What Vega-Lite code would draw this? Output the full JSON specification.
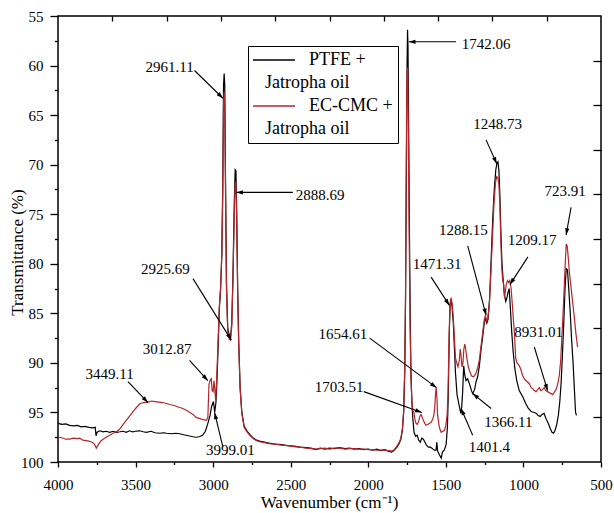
{
  "$schema": "https://vega.github.io/schema/vega-lite/v6.json",
  "width": 543,
  "height": 446,
  "autosize": {"type": "none"},
  "padding": {"left": 58, "top": 16, "right": 13, "bottom": 51},
  "background": "white",
  "config": {
    "font": "Liberation Serif",
    "view": {"stroke": "black", "strokeWidth": 1.5},
    "axis": {"grid": false, "domain": false, "tickColor": "black", "tickWidth": 1.3, "labelColor": "black", "labelFont": "Liberation Serif", "labelFontSize": 15, "titleFont": "Liberation Serif", "titleFontSize": 17, "titleFontWeight": "normal", "titleColor": "black", "labelFlush": false, "labelOverlap": false, "labelBound": false}
  },
  "datasets": {
    "ptfe": [
      {"x":4000,"y":96.1},{"x":3975,"y":96.2},{"x":3950,"y":96.15},{"x":3925,"y":96.3},{"x":3900,"y":96.35},{"x":3875,"y":96.3},{"x":3850,"y":96.45},{"x":3825,"y":96.4},{"x":3800,"y":96.5},{"x":3775,"y":96.55},{"x":3760,"y":96.5},{"x":3755,"y":97.35},{"x":3748,"y":97.0},{"x":3731,"y":96.85},{"x":3710,"y":96.95},{"x":3690,"y":96.9},{"x":3667,"y":97.0},{"x":3645,"y":96.9},{"x":3624,"y":97.0},{"x":3600,"y":96.95},{"x":3580,"y":96.9},{"x":3560,"y":97.0},{"x":3540,"y":96.85},{"x":3520,"y":96.95},{"x":3500,"y":96.9},{"x":3474,"y":96.85},{"x":3450,"y":96.95},{"x":3430,"y":97.0},{"x":3400,"y":96.9},{"x":3375,"y":97.05},{"x":3345,"y":97.1},{"x":3320,"y":97.05},{"x":3300,"y":97.1},{"x":3270,"y":97.15},{"x":3240,"y":97.1},{"x":3216,"y":97.15},{"x":3190,"y":97.25},{"x":3160,"y":97.35},{"x":3130,"y":97.45},{"x":3109,"y":97.5},{"x":3090,"y":97.45},{"x":3068,"y":97.3},{"x":3050,"y":96.9},{"x":3034,"y":96.1},{"x":3020,"y":95.3},{"x":3010,"y":94.4},{"x":2998,"y":93.9},{"x":2990,"y":95.0},{"x":2982,"y":94.0},{"x":2976,"y":92.0},{"x":2968,"y":88.5},{"x":2960,"y":84.5},{"x":2952,"y":82.5},{"x":2944,"y":79.0},{"x":2938,"y":72.0},{"x":2933,"y":62.0},{"x":2929,"y":60.8},{"x":2925,"y":62.0},{"x":2920,"y":72.0},{"x":2914,"y":82.0},{"x":2906,"y":86.5},{"x":2896,"y":87.3},{"x":2888,"y":87.4},{"x":2880,"y":86.0},{"x":2872,"y":81.0},{"x":2864,"y":74.0},{"x":2858,"y":70.5},{"x":2853,"y":70.6},{"x":2848,"y":75.0},{"x":2842,"y":82.5},{"x":2835,"y":88.0},{"x":2826,"y":92.5},{"x":2815,"y":95.0},{"x":2800,"y":96.4},{"x":2780,"y":96.9},{"x":2760,"y":97.3},{"x":2740,"y":97.6},{"x":2720,"y":97.8},{"x":2700,"y":97.9},{"x":2670,"y":98.0},{"x":2640,"y":98.1},{"x":2600,"y":98.2},{"x":2560,"y":98.25},{"x":2520,"y":98.35},{"x":2480,"y":98.4},{"x":2440,"y":98.5},{"x":2400,"y":98.55},{"x":2370,"y":98.6},{"x":2336,"y":98.75},{"x":2310,"y":98.6},{"x":2280,"y":98.7},{"x":2250,"y":98.6},{"x":2220,"y":98.65},{"x":2186,"y":98.55},{"x":2150,"y":98.65},{"x":2120,"y":98.6},{"x":2090,"y":98.7},{"x":2060,"y":98.65},{"x":2030,"y":98.75},{"x":2000,"y":98.7},{"x":1973,"y":98.8},{"x":1945,"y":98.7},{"x":1920,"y":98.85},{"x":1895,"y":98.75},{"x":1870,"y":98.9},{"x":1850,"y":99.0},{"x":1835,"y":98.85},{"x":1815,"y":98.5},{"x":1800,"y":98.1},{"x":1790,"y":97.7},{"x":1780,"y":96.8},{"x":1772,"y":95.0},{"x":1765,"y":91.0},{"x":1760,"y":84.0},{"x":1755,"y":72.0},{"x":1750,"y":60.0},{"x":1747,"y":56.4},{"x":1744,"y":58.0},{"x":1740,"y":66.0},{"x":1735,"y":76.0},{"x":1730,"y":85.0},{"x":1725,"y":91.0},{"x":1719,"y":94.0},{"x":1713,"y":95.6},{"x":1705,"y":97.0},{"x":1695,"y":97.4},{"x":1685,"y":97.3},{"x":1675,"y":97.8},{"x":1665,"y":98.0},{"x":1655,"y":97.6},{"x":1645,"y":97.7},{"x":1638,"y":97.9},{"x":1625,"y":98.3},{"x":1612,"y":98.5},{"x":1600,"y":98.5},{"x":1590,"y":98.6},{"x":1575,"y":98.8},{"x":1563,"y":98.8},{"x":1558,"y":98.0},{"x":1553,"y":98.9},{"x":1541,"y":99.3},{"x":1530,"y":99.6},{"x":1522,"y":99.0},{"x":1510,"y":98.8},{"x":1498,"y":98.2},{"x":1490,"y":96.5},{"x":1484,"y":93.0},{"x":1478,"y":87.0},{"x":1472,"y":84.0},{"x":1466,"y":83.7},{"x":1460,"y":84.3},{"x":1452,"y":86.0},{"x":1445,"y":88.5},{"x":1438,"y":91.0},{"x":1428,"y":93.2},{"x":1413,"y":94.4},{"x":1404,"y":95.1},{"x":1398,"y":94.5},{"x":1392,"y":93.0},{"x":1385,"y":90.3},{"x":1378,"y":91.2},{"x":1370,"y":91.8},{"x":1360,"y":91.6},{"x":1348,"y":92.1},{"x":1335,"y":92.8},{"x":1327,"y":93.1},{"x":1315,"y":92.7},{"x":1305,"y":91.9},{"x":1295,"y":91.4},{"x":1284,"y":90.3},{"x":1272,"y":88.5},{"x":1263,"y":87.4},{"x":1252,"y":85.9},{"x":1245,"y":85.5},{"x":1236,"y":86.0},{"x":1228,"y":85.6},{"x":1218,"y":83.5},{"x":1208,"y":79.5},{"x":1198,"y":75.5},{"x":1188,"y":72.5},{"x":1178,"y":70.5},{"x":1170,"y":69.8},{"x":1164,"y":69.7},{"x":1158,"y":70.6},{"x":1152,"y":73.0},{"x":1145,"y":77.0},{"x":1138,"y":80.0},{"x":1130,"y":81.8},{"x":1122,"y":83.2},{"x":1114,"y":83.8},{"x":1106,"y":83.4},{"x":1098,"y":82.8},{"x":1092,"y":82.5},{"x":1084,"y":84.5},{"x":1075,"y":87.0},{"x":1066,"y":88.9},{"x":1055,"y":90.6},{"x":1043,"y":91.8},{"x":1027,"y":92.8},{"x":1005,"y":93.4},{"x":985,"y":94.1},{"x":968,"y":94.6},{"x":950,"y":94.9},{"x":930,"y":95.0},{"x":917,"y":95.1},{"x":905,"y":95.3},{"x":892,"y":95.4},{"x":880,"y":95.2},{"x":867,"y":95.1},{"x":855,"y":95.6},{"x":840,"y":96.1},{"x":828,"y":96.6},{"x":816,"y":97.0},{"x":805,"y":97.1},{"x":796,"y":96.8},{"x":785,"y":96.2},{"x":775,"y":95.3},{"x":766,"y":94.0},{"x":757,"y":92.0},{"x":748,"y":89.0},{"x":740,"y":86.0},{"x":732,"y":82.5},{"x":724,"y":80.5},{"x":716,"y":80.6},{"x":708,"y":82.5},{"x":698,"y":85.0},{"x":690,"y":87.5},{"x":680,"y":90.0},{"x":672,"y":92.5},{"x":664,"y":95.0},{"x":658,"y":95.3}
    ],
    "ecmc": [
      {"x":4000,"y":97.5},{"x":3975,"y":97.55},{"x":3950,"y":97.7},{"x":3925,"y":97.7},{"x":3900,"y":97.6},{"x":3875,"y":97.65},{"x":3860,"y":97.6},{"x":3840,"y":97.8},{"x":3820,"y":97.85},{"x":3800,"y":97.9},{"x":3780,"y":98.0},{"x":3765,"y":98.2},{"x":3753,"y":98.6},{"x":3742,"y":98.3},{"x":3725,"y":97.9},{"x":3710,"y":97.7},{"x":3690,"y":97.5},{"x":3667,"y":97.3},{"x":3646,"y":97.1},{"x":3624,"y":96.95},{"x":3603,"y":96.7},{"x":3585,"y":96.3},{"x":3560,"y":95.8},{"x":3540,"y":95.4},{"x":3520,"y":95.0},{"x":3500,"y":94.6},{"x":3474,"y":94.15},{"x":3450,"y":94.0},{"x":3420,"y":93.95},{"x":3398,"y":93.85},{"x":3375,"y":93.9},{"x":3350,"y":93.95},{"x":3325,"y":94.0},{"x":3302,"y":94.1},{"x":3280,"y":94.2},{"x":3250,"y":94.3},{"x":3225,"y":94.45},{"x":3195,"y":94.6},{"x":3170,"y":94.8},{"x":3150,"y":95.0},{"x":3130,"y":95.2},{"x":3109,"y":95.5},{"x":3090,"y":95.6},{"x":3070,"y":95.7},{"x":3044,"y":95.8},{"x":3034,"y":95.5},{"x":3027,"y":92.2},{"x":3018,"y":91.7},{"x":3012,"y":91.6},{"x":3006,"y":92.8},{"x":3000,"y":92.9},{"x":2995,"y":91.8},{"x":2990,"y":92.5},{"x":2984,"y":93.8},{"x":2978,"y":92.0},{"x":2970,"y":88.6},{"x":2960,"y":84.3},{"x":2952,"y":82.5},{"x":2944,"y":79.0},{"x":2938,"y":73.0},{"x":2933,"y":64.0},{"x":2929,"y":62.7},{"x":2925,"y":64.0},{"x":2920,"y":73.0},{"x":2914,"y":82.5},{"x":2906,"y":86.8},{"x":2896,"y":87.6},{"x":2888,"y":87.7},{"x":2880,"y":86.3},{"x":2872,"y":81.5},{"x":2864,"y":75.0},{"x":2858,"y":72.0},{"x":2853,"y":71.8},{"x":2848,"y":75.5},{"x":2842,"y":82.8},{"x":2835,"y":88.2},{"x":2826,"y":92.6},{"x":2815,"y":95.1},{"x":2800,"y":96.5},{"x":2780,"y":97.0},{"x":2760,"y":97.35},{"x":2740,"y":97.65},{"x":2720,"y":97.85},{"x":2700,"y":97.95},{"x":2670,"y":98.05},{"x":2640,"y":98.15},{"x":2600,"y":98.2},{"x":2560,"y":98.3},{"x":2520,"y":98.35},{"x":2480,"y":98.45},{"x":2440,"y":98.5},{"x":2400,"y":98.6},{"x":2370,"y":98.65},{"x":2336,"y":98.7},{"x":2310,"y":98.65},{"x":2280,"y":98.6},{"x":2250,"y":98.7},{"x":2220,"y":98.6},{"x":2186,"y":98.6},{"x":2150,"y":98.7},{"x":2120,"y":98.65},{"x":2090,"y":98.65},{"x":2060,"y":98.7},{"x":2030,"y":98.7},{"x":2000,"y":98.75},{"x":1973,"y":98.75},{"x":1945,"y":98.8},{"x":1920,"y":98.8},{"x":1895,"y":98.8},{"x":1870,"y":98.85},{"x":1850,"y":98.9},{"x":1835,"y":98.8},{"x":1815,"y":98.4},{"x":1800,"y":98.0},{"x":1790,"y":97.6},{"x":1780,"y":96.6},{"x":1772,"y":94.8},{"x":1765,"y":90.5},{"x":1760,"y":83.0},{"x":1756,"y":72.0},{"x":1752,"y":62.0},{"x":1749,"y":60.2},{"x":1746,"y":60.5},{"x":1742,"y":66.0},{"x":1737,"y":76.0},{"x":1731,"y":86.0},{"x":1725,"y":91.5},{"x":1719,"y":93.8},{"x":1713,"y":94.8},{"x":1706,"y":95.0},{"x":1698,"y":95.8},{"x":1692,"y":96.1},{"x":1684,"y":96.2},{"x":1676,"y":95.9},{"x":1668,"y":95.4},{"x":1660,"y":95.2},{"x":1652,"y":95.5},{"x":1645,"y":95.8},{"x":1636,"y":96.1},{"x":1627,"y":96.3},{"x":1615,"y":96.2},{"x":1605,"y":96.1},{"x":1595,"y":96.0},{"x":1585,"y":95.7},{"x":1578,"y":95.3},{"x":1572,"y":94.6},{"x":1566,"y":93.0},{"x":1562,"y":92.5},{"x":1558,"y":93.5},{"x":1553,"y":95.3},{"x":1545,"y":96.2},{"x":1538,"y":96.7},{"x":1530,"y":97.0},{"x":1520,"y":96.9},{"x":1509,"y":96.8},{"x":1500,"y":96.3},{"x":1492,"y":95.3},{"x":1486,"y":93.0},{"x":1481,"y":89.0},{"x":1476,"y":85.4},{"x":1470,"y":83.6},{"x":1466,"y":83.5},{"x":1460,"y":84.0},{"x":1452,"y":85.4},{"x":1445,"y":87.5},{"x":1438,"y":89.5},{"x":1430,"y":90.0},{"x":1422,"y":90.4},{"x":1414,"y":89.8},{"x":1407,"y":88.6},{"x":1402,"y":89.3},{"x":1396,"y":90.4},{"x":1390,"y":90.0},{"x":1384,"y":88.6},{"x":1378,"y":88.1},{"x":1372,"y":88.6},{"x":1364,"y":89.6},{"x":1355,"y":90.4},{"x":1345,"y":90.9},{"x":1335,"y":91.3},{"x":1325,"y":91.4},{"x":1315,"y":91.3},{"x":1305,"y":91.0},{"x":1295,"y":90.5},{"x":1284,"y":89.7},{"x":1274,"y":88.4},{"x":1263,"y":87.0},{"x":1252,"y":85.6},{"x":1245,"y":85.2},{"x":1237,"y":85.8},{"x":1230,"y":85.5},{"x":1220,"y":84.2},{"x":1210,"y":81.0},{"x":1200,"y":77.5},{"x":1190,"y":74.0},{"x":1180,"y":71.8},{"x":1172,"y":71.2},{"x":1165,"y":71.3},{"x":1158,"y":72.0},{"x":1152,"y":74.0},{"x":1146,"y":77.5},{"x":1140,"y":80.3},{"x":1134,"y":81.6},{"x":1128,"y":82.0},{"x":1122,"y":83.4},{"x":1116,"y":82.8},{"x":1110,"y":82.0},{"x":1102,"y":81.7},{"x":1095,"y":81.9},{"x":1088,"y":81.7},{"x":1080,"y":82.4},{"x":1072,"y":84.0},{"x":1064,"y":85.8},{"x":1058,"y":87.0},{"x":1050,"y":89.5},{"x":1042,"y":90.0},{"x":1030,"y":90.2},{"x":1018,"y":90.6},{"x":1005,"y":91.3},{"x":990,"y":91.7},{"x":975,"y":91.9},{"x":962,"y":92.1},{"x":950,"y":92.5},{"x":940,"y":92.6},{"x":930,"y":92.8},{"x":919,"y":92.9},{"x":908,"y":92.7},{"x":898,"y":92.5},{"x":888,"y":92.8},{"x":876,"y":92.7},{"x":866,"y":92.5},{"x":856,"y":92.8},{"x":844,"y":92.9},{"x":834,"y":93.0},{"x":822,"y":93.1},{"x":812,"y":93.2},{"x":802,"y":93.0},{"x":790,"y":92.7},{"x":780,"y":92.2},{"x":769,"y":91.3},{"x":760,"y":89.8},{"x":751,"y":87.0},{"x":743,"y":84.5},{"x":736,"y":82.0},{"x":729,"y":79.5},{"x":724,"y":78.0},{"x":718,"y":78.2},{"x":712,"y":79.2},{"x":704,"y":80.8},{"x":693,"y":82.4},{"x":682,"y":84.0},{"x":672,"y":85.4},{"x":662,"y":87.0},{"x":651,"y":88.4}
    ],
    "ann": [
      {"label":"2961.11","lx":3280,"ly":60.1,"x0":3120,"y0":60.5,"x1":2937,"y1":63.3},
      {"label":"2888.69","lx":2310,"ly":73.1,"x0":2486,"y0":72.8,"x1":2851,"y1":72.8},
      {"label":"1742.06","lx":1241,"ly":57.8,"x0":1434,"y0":57.6,"x1":1739,"y1":57.6},
      {"label":"1248.73","lx":1166,"ly":65.9,"x0":1241,"y0":67.5,"x1":1172,"y1":69.9},
      {"label":"723.91","lx":732,"ly":72.7,"x0":693,"y0":74.3,"x1":725,"y1":77.1},
      {"label":"1288.15","lx":1387,"ly":76.6,"x0":1359,"y0":78.2,"x1":1240,"y1":85.2},
      {"label":"1209.17","lx":944,"ly":77.6,"x0":971,"y0":79.3,"x1":1087,"y1":82.1},
      {"label":"1471.31","lx":1556,"ly":80.0,"x0":1595,"y0":81.35,"x1":1477,"y1":84.2},
      {"label":"8931.01","lx":902,"ly":86.9,"x0":930,"y0":88.4,"x1":844,"y1":92.8},
      {"label":"1654.61","lx":2163,"ly":87.1,"x0":1991,"y0":87.5,"x1":1560,"y1":92.5},
      {"label":"1703.51","lx":2188,"ly":92.4,"x0":2029,"y0":92.9,"x1":1655,"y1":95.0},
      {"label":"1401.4","lx":1219,"ly":98.5,"x0":1327,"y0":97.3,"x1":1402,"y1":94.6},
      {"label":"1366.11","lx":1097,"ly":96.0,"x0":1208,"y0":94.6,"x1":1327,"y1":93.1},
      {"label":"2925.69","lx":3308,"ly":80.5,"x0":3130,"y0":81.5,"x1":2883,"y1":87.7},
      {"label":"3012.87","lx":3297,"ly":88.6,"x0":3152,"y0":89.75,"x1":3034,"y1":91.8},
      {"label":"3449.11","lx":3667,"ly":91.1,"x0":3549,"y0":91.9,"x1":3420,"y1":94.0},
      {"label":"3999.01","lx":2889,"ly":98.8,"x0":2937,"y0":98.5,"x1":2991,"y1":95.0}
    ]
  },
  "resolve": {"axis": {"x": "independent", "y": "independent"}},
  "layer": [
    {
      "data": {"name": "ptfe"},
      "mark": {"type": "line", "strokeWidth": 1.2},
      "encoding": {
        "x": {"field": "x", "type": "quantitative", "scale": {"domain": [500, 4000], "reverse": true, "nice": false, "zero": false},
          "axis": {"orient": "bottom", "values": [4000,3500,3000,2500,2000,1500,1000,500], "format": "d", "tickSize": 5, "labelPadding": 10, "title": "Wavenumber (cm\u207b\u00b9)", "titleX": 271, "titleY": 40, "titleBaseline": "middle", "titleAlign": "center"}},
        "y": {"field": "y", "type": "quantitative", "scale": {"domain": [55, 100], "reverse": true, "nice": false, "zero": false},
          "axis": {"orient": "left", "values": [55,60,65,70,75,80,85,90,95,100], "format": "d", "tickSize": 8, "labelPadding": 7, "title": "Transmittance (%)", "titleX": -41, "titleY": 236, "titleAngle": -90, "titleBaseline": "middle", "titleAlign": "center"}},
        "color": {"datum": "PTFE", "type": "nominal", "scale": {"domain": ["PTFE", "PTFE_oil", "EC-CMC", "EC_oil"], "range": ["#000000", "rgba(0,0,0,0)", "#b5262c", "rgba(0,0,0,0)"]},
          "legend": {"title": null, "orient": "none", "legendX": 190, "legendY": 30, "direction": "vertical", "symbolType": "M-5,0H5", "symbolSize": 70.56, "symbolStrokeWidth": 1.3, "symbolOffset": 12, "labelFont": "Liberation Serif", "labelFontSize": 18, "labelColor": "black", "labelLimit": 400, "labelOffset": {"expr": "(datum.label == 'PTFE' || datum.label == 'EC-CMC') ? 26 : -18"}, "labelBaseline": "middle", "labelExpr": "datum.label == 'PTFE' ? 'PTFE +' : datum.label == 'EC-CMC' ? 'EC-CMC +' : 'Jatropha oil'", "strokeColor": "black", "padding": 5, "rowPadding": 5}}
      }
    },
    {
      "data": {"name": "ecmc"},
      "mark": {"type": "line", "strokeWidth": 1.2},
      "encoding": {
        "x": {"field": "x", "type": "quantitative", "scale": {"domain": [500, 4000], "reverse": true, "nice": false, "zero": false},
          "axis": {"orient": "bottom", "values": [3750,3250,2750,2250,1750,1250,750], "tickSize": 2.5, "labels": false, "title": null}},
        "y": {"field": "y", "type": "quantitative", "scale": {"domain": [55, 100], "reverse": true, "nice": false, "zero": false},
          "axis": {"orient": "left", "values": [57.5,62.5,67.5,72.5,77.5,82.5,87.5,92.5,97.5], "tickSize": 3.5, "labels": false, "title": null}},
        "color": {"datum": "EC-CMC", "type": "nominal"}
      }
    },
    {
      "data": {"name": "ann"},
      "mark": {"type": "rule", "color": "black", "strokeWidth": 1.1},
      "encoding": {
        "x": {"field": "x0", "type": "quantitative", "scale": {"domain": [500, 4000], "reverse": true, "nice": false, "zero": false},
          "axis": {"orient": "top", "values": [3650,3300,2950,2600,2250,1900,1550,1200,850], "tickSize": 5, "offset": -5, "labels": false, "title": null}},
        "y": {"field": "y0", "type": "quantitative", "scale": {"domain": [55, 100], "reverse": true, "nice": false, "zero": false},
          "axis": {"orient": "right", "values": [59.5,64,68.5,73,77.5,82,86.5,91,95.5], "tickSize": 8, "offset": -8, "labels": false, "title": null}},
        "x2": {"field": "x1"},
        "y2": {"field": "y1"}
      }
    },
    {
      "data": {"name": "ann"},
      "transform": [{"calculate": "atan2(-(datum.x1 - datum.x0) * 0.15526, -(datum.y1 - datum.y0) * 9.907) * 180 / PI", "as": "ang"}],
      "mark": {"type": "point", "shape": "M0,0L-0.45,1.4L0.45,1.4Z", "filled": true, "color": "black", "opacity": 1, "size": 90},
      "encoding": {
        "x": {"field": "x1", "type": "quantitative", "scale": {"domain": [500, 4000], "reverse": true, "nice": false, "zero": false}, "axis": null},
        "y": {"field": "y1", "type": "quantitative", "scale": {"domain": [55, 100], "reverse": true, "nice": false, "zero": false}, "axis": null},
        "angle": {"field": "ang", "type": "quantitative", "scale": null}
      }
    },
    {
      "data": {"name": "ann"},
      "mark": {"type": "text", "font": "Liberation Serif", "fontSize": 15, "color": "black", "align": "center", "baseline": "middle"},
      "encoding": {
        "x": {"field": "lx", "type": "quantitative", "scale": {"domain": [500, 4000], "reverse": true, "nice": false, "zero": false}, "axis": null},
        "y": {"field": "ly", "type": "quantitative", "scale": {"domain": [55, 100], "reverse": true, "nice": false, "zero": false}, "axis": null},
        "text": {"field": "label"}
      }
    }
  ]
}
